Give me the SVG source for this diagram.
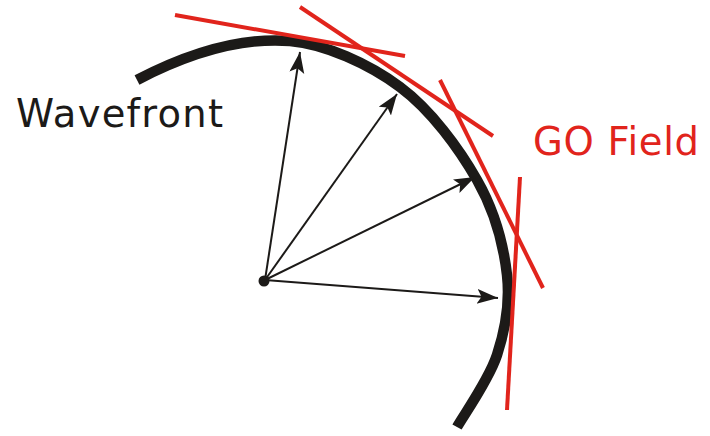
<svg xmlns="http://www.w3.org/2000/svg" width="710" height="436" viewBox="0 0 710 436">
<style>
.wave{fill:none;stroke:#1c1a18;stroke-width:10.5;stroke-linecap:butt}
.ray{fill:none;stroke:#1c1a18;stroke-width:2}
.tan{fill:none;stroke:#e1241c;stroke-width:4}
.lbl{font-family:"DejaVu Sans","Verdana",sans-serif;font-size:38.5px}
</style>
<defs>
<marker id="ah" markerUnits="userSpaceOnUse" markerWidth="24" markerHeight="18" refX="21" refY="7.5" orient="auto">
<path d="M0,0 L21,7.5 L0,15 L4.5,7.5 z" fill="#1c1a18"/>
</marker>
</defs>
<rect width="710" height="436" fill="#ffffff"/>
<g id="wavefront">
<path class="wave" d="M137,80 C185,55 240,37 290,41 C325,44 368.8,63.8 400,87 C431.2,110.2 459.2,148.7 477,180 C494.8,211.3 503.7,245.8 507,275 C510.3,304.2 505.3,329.7 497,355 C488.7,380.3 463.7,415 457,427"/>
</g>
<g id="go-field">
<line class="tan" x1="175" y1="15" x2="405" y2="56"/>
<line class="tan" x1="300" y1="7" x2="493" y2="136"/>
<line class="tan" x1="440" y1="80" x2="543" y2="288"/>
<line class="tan" x1="520" y1="177" x2="507" y2="410"/>
</g>
<g id="connectors">
<line class="ray" x1="265" y1="280" x2="300" y2="52" marker-end="url(#ah)"/>
<line class="ray" x1="265" y1="280" x2="397" y2="94" marker-end="url(#ah)"/>
<line class="ray" x1="265" y1="280" x2="475" y2="177" marker-end="url(#ah)"/>
<line class="ray" x1="265" y1="280" x2="498" y2="298" marker-end="url(#ah)"/>
</g>
<g id="source">
<circle cx="264" cy="281" r="5.5" fill="#1c1a18"/>
</g>
<g id="labels">
<text class="lbl" x="16" y="127" fill="#1c1a18" textLength="207" lengthAdjust="spacing">Wavefront</text>
<text class="lbl" x="533" y="155" fill="#e1241c" textLength="166" lengthAdjust="spacing">GO Field</text>
</g>
</svg>
